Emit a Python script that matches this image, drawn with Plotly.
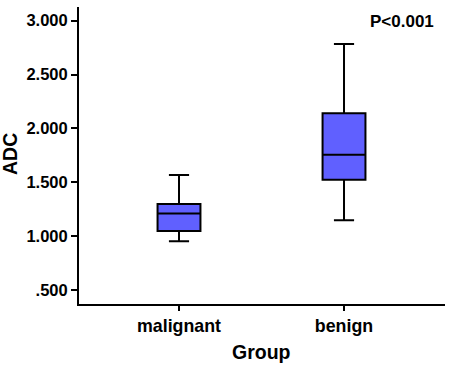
import plotly.graph_objects as go

groups = ["malignant", "benign"]
lower_fence = [0.952, 1.147]
q1 = [1.047, 1.524]
median = [1.21, 1.756]
q3 = [1.298, 2.14]
upper_fence = [1.567, 2.784]

y_tick_vals = [0.5, 1.0, 1.5, 2.0, 2.5, 3.0]
y_tick_text = [".500", "1.000", "1.500", "2.000", "2.500", "3.000"]

FONT = "Liberation Sans, Arial, sans-serif"
W, H = 453, 367
L, R, T, B = 79, 8, 7, 63  # margins in px

fig = go.Figure()
fig.add_trace(go.Box(
    x=groups,
    q1=q1, median=median, q3=q3,
    lowerfence=lower_fence, upperfence=upper_fence,
    fillcolor="#6060FF",
    line=dict(color="black", width=2),
    width=0.26,
    whiskerwidth=0.47,
    boxpoints=False,
    hoverinfo="skip",
    showlegend=False,
))

def px_x(x):
    return (x - L) / (W - L - R)

def px_y(y):
    return (H - B - y) / (H - T - B)

fig.update_layout(
    width=W, height=H,
    margin=dict(l=L, r=R, t=T, b=B, autoexpand=False),
    paper_bgcolor="white", plot_bgcolor="white",
    font=dict(family=FONT, color="black"),
    xaxis=dict(
        type="category",
        range=[-0.606, 1.612],
        automargin=False,
        showline=True, linecolor="black", linewidth=2,
        ticks="outside", ticklen=5, tickwidth=2, tickcolor="black",
        tickfont=dict(size=17.8, family=FONT, weight="bold"),
        showgrid=False, zeroline=False,
    ),
    yaxis=dict(
        range=[0.37, 3.127],
        automargin=False,
        tickmode="array", tickvals=y_tick_vals, ticktext=y_tick_text,
        showline=True, linecolor="black", linewidth=2,
        ticks="outside", ticklen=6, tickwidth=2, tickcolor="black",
        tickfont=dict(size=16.5, family=FONT, weight="bold"),
        showgrid=False, zeroline=False,
    ),
    annotations=[
        dict(text="<b>P<0.001</b>", x=px_x(402), y=px_y(21.7),
             xref="paper", yref="paper", xanchor="center", yanchor="middle",
             showarrow=False, font=dict(size=17, family=FONT, color="black")),
        dict(text="<b>ADC</b>", x=px_x(9.5), y=px_y(154.5), textangle=-90,
             xref="paper", yref="paper", xanchor="center", yanchor="middle",
             showarrow=False, font=dict(size=19.5, family=FONT, color="black")),
        dict(text="<b>Group</b>", x=px_x(261.7), y=px_y(351.7),
             xref="paper", yref="paper", xanchor="center", yanchor="middle",
             showarrow=False, font=dict(size=19.5, family=FONT, color="black")),
    ],
)

fig.write_html("out.html", config={"displayModeBar": False},
               post_script="document.body.style.margin='0';")
